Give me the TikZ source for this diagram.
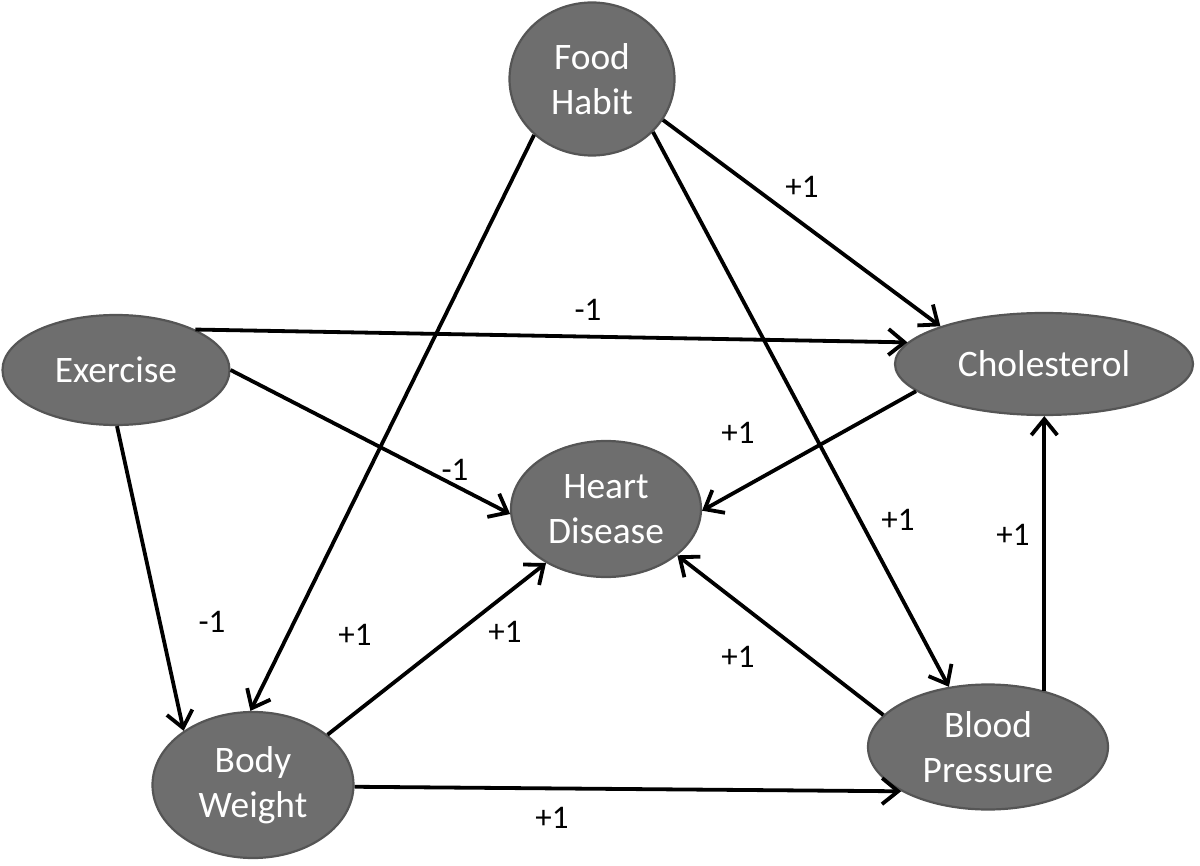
\documentclass[tikz,border=0pt]{standalone}
\usepackage{fontspec}
\setmainfont{Carlito}
\usetikzlibrary{shapes.geometric,arrows.meta}
\definecolor{nodefill}{HTML}{6E6E6E}
\definecolor{nodeline}{HTML}{555555}
\tikzset{
  causenode/.style={ellipse, fill=nodefill, draw=nodeline, line width=1.1pt, inner sep=0pt,
    text=white, align=center, font=\fontsize{18.7}{22.5}\selectfont},
  link/.style={line width=1.9pt, -{Straight Barb[length=8pt,width=13pt,line width=1.9pt]}},
  sign/.style={font=\fontsize{16.5}{19}\selectfont, text=black, inner sep=0pt}
}
\begin{document}
\begin{tikzpicture}[x=0.5pt,y=-0.5pt]
\useasboundingbox (0,0) rectangle (1200,866);
\node[causenode, minimum width=165*0.5pt, minimum height=153*0.5pt] (fh) at (592,79) {Food\\Habit};
\node[causenode, minimum width=227*0.5pt, minimum height=110*0.5pt] (ex) at (116,370) {Exercise};
\node[causenode, minimum width=298*0.5pt, minimum height=102*0.5pt] (ch) at (1044,364) {Cholesterol};
\node[causenode, minimum width=190*0.5pt, minimum height=136*0.5pt] (hd) at (606,509) {Heart\\Disease};
\node[causenode, minimum width=201*0.5pt, minimum height=146*0.5pt] (bw) at (253,785) {Body\\Weight};
\node[causenode, minimum width=240*0.5pt, minimum height=125*0.5pt] (bp) at (988,747) {Blood\\Pressure};

\draw[link] (fh.-30) -- (ch.160);
\draw[link] (fh.224) -- (bw.92);
\draw[link] (fh.-41) -- (bp.123);
\draw[link] (ex.27) -- (ch.171);
\draw[link] (ex.0) -- (hd.183);
\draw[link] (ex.-89) -- (bw.142);
\draw[link] (ch.192) -- (hd.-1);
\draw[link] (bw.34) -- (hd.222);
\draw[link] (bp.163) -- (hd.-33);
\draw[link] (bw.-1) -- (bp.207);
\coordinate (bpup) at (bp.45);
\draw[link] (bpup) -- (bpup |- ch.south);

\node[sign] (l1) at (802,187) {+1};
\node[sign] (l2) at (355,635) {+1};
\node[sign] (l3) at (898,520) {+1};
\node[sign] (l4) at (588,310) {-1};
\node[sign] (l5) at (455,470) {-1};
\node[sign] (l6) at (212,622) {-1};
\node[sign] (l7) at (738,433) {+1};
\node[sign] (l8) at (505,632) {+1};
\node[sign] (l9) at (738,657) {+1};
\node[sign] (l10) at (552,818) {+1};
\node[sign] (l11) at (1013,535) {+1};
\end{tikzpicture}
\end{document}
